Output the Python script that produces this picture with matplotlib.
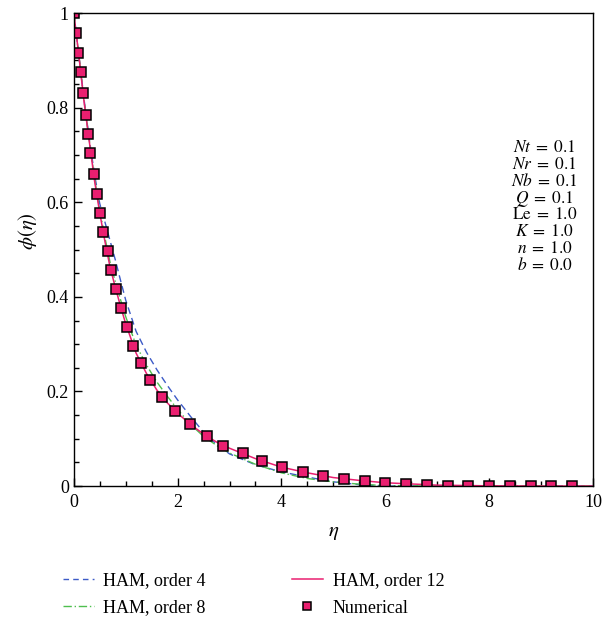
import numpy as np
import matplotlib.pyplot as plt
from matplotlib.lines import Line2D

plt.rcParams['font.family'] = ['Liberation Serif', 'DejaVu Serif']
plt.rcParams['mathtext.fontset'] = 'stix'

# numerical solution (markers)
num_eta = [0, 0.04, 0.09, 0.13, 0.17, 0.23, 0.28, 0.32, 0.38, 0.44, 0.50, 0.56,
           0.65, 0.71, 0.81, 0.91, 1.02, 1.14, 1.29, 1.47, 1.70, 1.95, 2.24, 2.56,
           2.87, 3.26, 3.62, 4.01, 4.41, 4.80, 5.20, 5.60, 6.00, 6.40, 6.80, 7.20,
           7.60, 8.00, 8.40, 8.80, 9.20, 9.60]
num_phi = [1.0, 0.958, 0.916, 0.876, 0.831, 0.784, 0.744, 0.704, 0.659, 0.617, 0.577, 0.537,
           0.497, 0.457, 0.416, 0.376, 0.336, 0.296, 0.260, 0.224, 0.188, 0.159, 0.131, 0.106,
           0.085, 0.070, 0.053, 0.040, 0.030, 0.021, 0.015, 0.011, 0.006, 0.004, 0.002, 0.001,
           0.0005, 0.0, 0.0, 0.0, 0.0, 0.0]

# HAM solutions
ham_eta = [0, 0.1, 0.2, 0.3, 0.4, 0.5, 0.6, 0.7, 0.8, 0.9, 1.0, 1.2, 1.4, 1.6, 1.8,
           2.0, 2.25, 2.5, 2.75, 3.0, 3.5, 4.0, 4.5, 5.0, 5.5, 6.0, 7.0, 8.0, 9.0, 10.0]
ham4 = [1.0, 0.908, 0.815, 0.732, 0.658, 0.597, 0.558, 0.518, 0.478, 0.435, 0.393, 0.327,
        0.283, 0.246, 0.213, 0.182, 0.147, 0.114, 0.088, 0.068, 0.045, 0.030, 0.019, 0.009,
        0.003, 0.0, 0.0, 0.0, 0.0, 0.0]
ham8 = [1.0, 0.908, 0.812, 0.730, 0.650, 0.583, 0.525, 0.472, 0.432, 0.394, 0.358, 0.298,
        0.256, 0.220, 0.190, 0.162, 0.130, 0.105, 0.086, 0.070, 0.046, 0.028, 0.016, 0.009,
        0.004, 0.001, 0.0, 0.0, 0.0, 0.0]
ham12 = [1.0, 0.907, 0.810, 0.727, 0.645, 0.577, 0.517, 0.462, 0.420, 0.380, 0.343, 0.281,
         0.238, 0.203, 0.176, 0.154, 0.130, 0.110, 0.093, 0.080, 0.058, 0.040, 0.028, 0.018,
         0.012, 0.007, 0.002, 0.0005, 0.0, 0.0]

params = [r'$Nt\;=\;0.1$', r'$Nr\;=\;0.1$', r'$Nb\;=\;0.1$', r'$Q\;=\;0.1$',
          r'$\mathrm{Le}\;=\;1.0$', r'$K\;=\;1.0$', r'$n\;=\;1.0$', r'$b\;=\;0.0$']

xticks = [0, 2, 4, 6, 8, 10]
yticks = [0, 0.2, 0.4, 0.6, 0.8, 1.0]
ylabels = ['0', '0.2', '0.4', '0.6', '0.8', '1']

fig = plt.figure(figsize=(6.1, 6.2), dpi=100)
ax = fig.add_axes([0.121, 0.216, 0.851, 0.763])

blue = '#3d5bc7'
green = '#4fbf4f'
pink = '#ea1f70'

ax.plot(ham_eta, ham4, color=blue, lw=1.0, ls=(0, (5, 3)))
ax.plot(ham_eta, ham8, color=green, lw=1.0, ls=(0, (6, 2, 1, 2)))
ax.plot(ham_eta, ham12, color=pink, lw=1.1)
ax.plot(num_eta, num_phi, ls='none', marker='s', ms=7, mfc=pink, mec='black', mew=1.1)

ax.set_xlim(0, 10)
ax.set_ylim(0, 1)
ax.set_xticks(xticks)
ax.set_xticklabels([str(v) for v in xticks])
ax.set_yticks(yticks)
ax.set_yticklabels(ylabels)
ax.set_xticks(np.arange(0, 10.01, 0.5), minor=True)
ax.set_yticks(np.arange(0, 1.001, 0.05), minor=True)
ax.tick_params(which='both', direction='in', labelsize=13, top=False, right=False)
ax.tick_params(which='major', length=6, width=1)
ax.tick_params(which='minor', length=3.5, width=1)
ax.tick_params(axis='x', pad=6)
for s in ax.spines.values():
    s.set_linewidth(1.0)

ax.set_xlabel(r'$\eta$', fontsize=15, labelpad=8)
ax.set_ylabel(r'$\phi(\eta)$', fontsize=15)
ax.yaxis.set_label_coords(-0.068, 0.54)

for i, p in enumerate(params):
    ax.text(9.07, 0.714 - i * 0.0355, p, ha='center', va='center', fontsize=12.5)

handles = [Line2D([], [], color=blue, lw=1.0, ls=(0, (4, 3))),
           Line2D([], [], color=green, lw=1.0, ls=(0, (6, 2, 1, 2))),
           Line2D([], [], color=pink, lw=1.1),
           Line2D([], [], ls='none', marker='s', ms=6, mfc=pink, mec='black', mew=1.1)]
labels = ['HAM, order 4', 'HAM, order 8', 'HAM, order 12', 'Numerical']
fig.legend(handles, labels, ncol=2, loc='upper left', bbox_to_anchor=(0.103, 0.077),
           frameon=False, fontsize=13, handlelength=1.7, handletextpad=0.55,
           columnspacing=4.77, labelspacing=0.57, borderaxespad=0, borderpad=0)

fig.savefig('out.png', dpi=100)
